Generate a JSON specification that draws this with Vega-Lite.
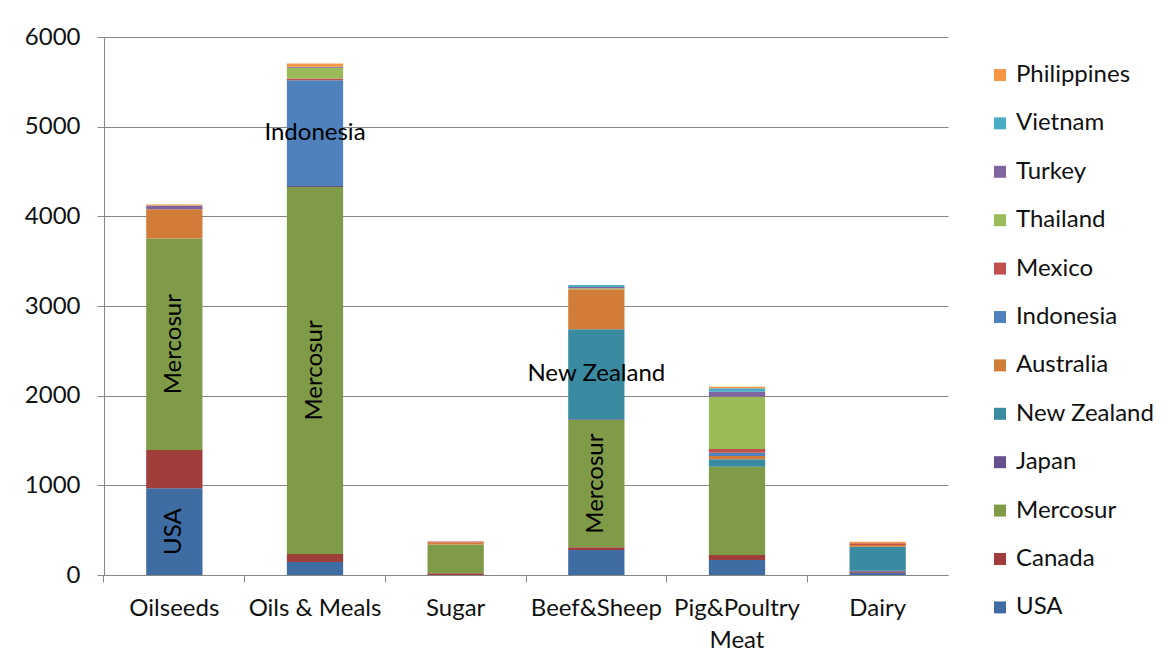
{
  "$schema": "https://vega.github.io/schema/vega-lite/v6.json",
  "width": 844,
  "height": 538,
  "autosize": {"type": "none"},
  "padding": {"left": 104, "top": 37, "right": 225, "bottom": 95},
  "background": "white",
  "config": {
    "font": "Lato",
    "view": {"stroke": null},
    "axis": {"labelFont": "Lato", "labelColor": "#111", "labelFontSize": 24, "domainColor": "#868686", "tickColor": "#868686", "gridColor": "#868686", "title": null}
  },
  "data": {
    "values": [
      {"category": "Oilseeds", "country": "USA", "k": 1, "amt": 967, "lab": true},
      {"category": "Oilseeds", "country": "Canada", "k": 2, "amt": 427},
      {"category": "Oilseeds", "country": "Mercosur", "k": 3, "amt": 2360, "lab": true},
      {"category": "Oilseeds", "country": "Australia", "k": 6, "amt": 326},
      {"category": "Oilseeds", "country": "Turkey", "k": 10, "amt": 40},
      {"category": "Oilseeds", "country": "Philippines", "k": 12, "amt": 12},
      {"category": "Oils & Meals", "country": "USA", "k": 1, "amt": 145},
      {"category": "Oils & Meals", "country": "Canada", "k": 2, "amt": 90},
      {"category": "Oils & Meals", "country": "Mercosur", "k": 3, "amt": 4092, "lab": true},
      {"category": "Oils & Meals", "country": "Japan", "k": 4, "amt": 10},
      {"category": "Oils & Meals", "country": "Indonesia", "k": 7, "amt": 1180, "lab": true},
      {"category": "Oils & Meals", "country": "Mexico", "k": 8, "amt": 20},
      {"category": "Oils & Meals", "country": "Thailand", "k": 9, "amt": 120},
      {"category": "Oils & Meals", "country": "Turkey", "k": 10, "amt": 10},
      {"category": "Oils & Meals", "country": "Philippines", "k": 12, "amt": 37},
      {"category": "Sugar", "country": "Canada", "k": 2, "amt": 20},
      {"category": "Sugar", "country": "Mercosur", "k": 3, "amt": 320},
      {"category": "Sugar", "country": "Australia", "k": 6, "amt": 25},
      {"category": "Sugar", "country": "Mexico", "k": 8, "amt": 10},
      {"category": "Beef&Sheep", "country": "USA", "k": 1, "amt": 280},
      {"category": "Beef&Sheep", "country": "Canada", "k": 2, "amt": 30},
      {"category": "Beef&Sheep", "country": "Mercosur", "k": 3, "amt": 1418, "lab": true},
      {"category": "Beef&Sheep", "country": "Japan", "k": 4, "amt": 10},
      {"category": "Beef&Sheep", "country": "New Zealand", "k": 5, "amt": 1002, "lab": true},
      {"category": "Beef&Sheep", "country": "Australia", "k": 6, "amt": 446},
      {"category": "Beef&Sheep", "country": "Thailand", "k": 9, "amt": 12},
      {"category": "Beef&Sheep", "country": "Turkey", "k": 10, "amt": 15},
      {"category": "Beef&Sheep", "country": "Vietnam", "k": 11, "amt": 20},
      {"category": "Pig&Poultry Meat", "country": "USA", "k": 1, "amt": 167},
      {"category": "Pig&Poultry Meat", "country": "Canada", "k": 2, "amt": 56},
      {"category": "Pig&Poultry Meat", "country": "Mercosur", "k": 3, "amt": 985},
      {"category": "Pig&Poultry Meat", "country": "New Zealand", "k": 5, "amt": 82},
      {"category": "Pig&Poultry Meat", "country": "Australia", "k": 6, "amt": 37},
      {"category": "Pig&Poultry Meat", "country": "Indonesia", "k": 7, "amt": 37},
      {"category": "Pig&Poultry Meat", "country": "Mexico", "k": 8, "amt": 41},
      {"category": "Pig&Poultry Meat", "country": "Thailand", "k": 9, "amt": 583},
      {"category": "Pig&Poultry Meat", "country": "Turkey", "k": 10, "amt": 56},
      {"category": "Pig&Poultry Meat", "country": "Vietnam", "k": 11, "amt": 38},
      {"category": "Pig&Poultry Meat", "country": "Philippines", "k": 12, "amt": 18},
      {"category": "Dairy", "country": "USA", "k": 1, "amt": 25},
      {"category": "Dairy", "country": "Canada", "k": 2, "amt": 10},
      {"category": "Dairy", "country": "Japan", "k": 4, "amt": 12},
      {"category": "Dairy", "country": "New Zealand", "k": 5, "amt": 268},
      {"category": "Dairy", "country": "Australia", "k": 6, "amt": 20},
      {"category": "Dairy", "country": "Mexico", "k": 8, "amt": 18},
      {"category": "Dairy", "country": "Philippines", "k": 12, "amt": 17}
    ]
  },
  "resolve": {"axis": {"x": "independent"}},
  "layer": [
    {
      "mark": {"type": "bar"},
      "encoding": {
        "x": {
          "field": "category", "type": "nominal",
          "sort": ["Oilseeds", "Oils & Meals", "Sugar", "Beef&Sheep", "Pig&Poultry Meat", "Dairy"],
          "scale": {"paddingInner": 0.6, "paddingOuter": 0.3},
          "axis": {"orient": "bottom", "labelAngle": 0, "ticks": false, "labelPadding": 33, "labelLineHeight": 32, "labelBaseline": "middle",
            "labelExpr": "datum.label == 'Pig&Poultry Meat' ? ['Pig&Poultry', 'Meat'] : datum.label"}
        },
        "y": {
          "field": "amt", "type": "quantitative", "stack": "zero",
          "scale": {"domain": [0, 6000]},
          "axis": {"values": [0, 1000, 2000, 3000, 4000, 5000, 6000], "format": "d", "tickSize": 7, "labelPadding": 17, "grid": true}
        },
        "color": {
          "field": "country", "type": "nominal",
          "scale": {
            "domain": ["USA", "Canada", "Mercosur", "Japan", "New Zealand", "Australia", "Indonesia", "Mexico", "Thailand", "Turkey", "Vietnam", "Philippines"],
            "range": ["#3E6CA3", "#A03E3C", "#7F9B48", "#65518C", "#3A8BA1", "#D27C3A", "#4F81BD", "#C0504D", "#9BBB59", "#8064A2", "#4BACC6", "#F79646"]
          },
          "legend": {
            "title": null, "orient": "none", "legendX": 884, "legendY": 26,
            "values": ["Philippines", "Vietnam", "Turkey", "Thailand", "Mexico", "Indonesia", "Australia", "New Zealand", "Japan", "Mercosur", "Canada", "USA"],
            "symbolType": "square", "symbolSize": 144, "symbolStrokeWidth": 0,
            "labelFont": "Lato", "labelFontSize": 24, "labelColor": "#111", "labelOffset": 4, "rowPadding": 24.4
          }
        },
        "order": {"field": "k", "type": "quantitative"}
      }
    },
    {
      "transform": [
        {"stack": "amt", "groupby": ["category"], "sort": [{"field": "k"}], "as": ["v0", "v1"]},
        {"filter": "datum.lab"},
        {"fold": ["v0", "v1"], "as": ["edge", "pos"]},
        {"aggregate": [{"op": "mean", "field": "pos", "as": "mid"}], "groupby": ["category", "country"]}
      ],
      "encoding": {
        "x": {
          "field": "category", "type": "nominal",
          "sort": ["Oilseeds", "Oils & Meals", "Sugar", "Beef&Sheep", "Pig&Poultry Meat", "Dairy"],
          "axis": {"orient": "bottom", "labels": false, "domain": false, "grid": false, "ticks": true, "tickSize": 7, "tickWidth": 1, "bandPosition": -0.75}
        },
        "y": {"field": "mid", "type": "quantitative"},
        "text": {"field": "country"}
      },
      "layer": [
        {
          "transform": [{"filter": "datum.country == 'Mercosur' || datum.country == 'USA'"}],
          "mark": {"type": "text", "angle": 270, "fontSize": 24, "font": "Lato", "color": "#000", "align": "center", "baseline": "middle"}
        },
        {
          "transform": [{"filter": "datum.country != 'Mercosur' && datum.country != 'USA'"}],
          "mark": {"type": "text", "fontSize": 24, "font": "Lato", "color": "#000", "align": "center", "baseline": "middle"}
        }
      ]
    }
  ]
}
